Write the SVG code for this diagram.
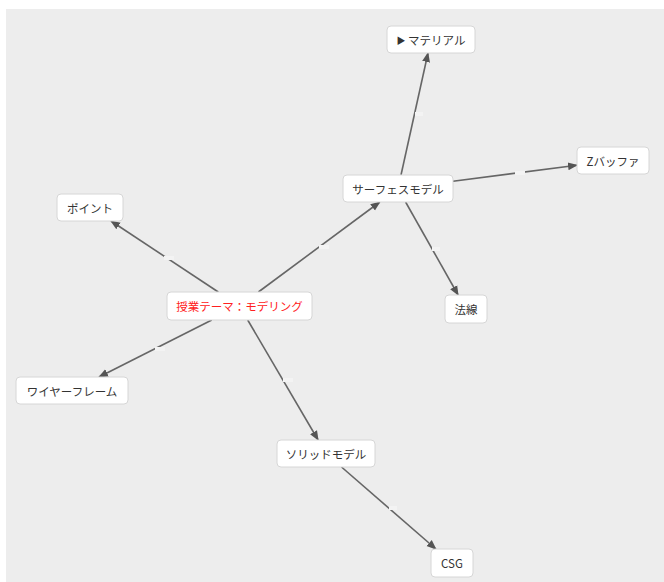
<svg xmlns="http://www.w3.org/2000/svg" width="664" height="582" viewBox="0 0 664 582">
<style>
.bg{fill:#ededed}
.node rect{fill:#ffffff;stroke:#d6d6d6;stroke-width:1}
.node text{font-family:"Noto Sans CJK JP","Noto Sans",sans-serif;font-size:11.5px;fill:#333;text-anchor:middle;dominant-baseline:central}
.node text.main{fill:#ff2020}
.edge{stroke:#666;stroke-width:1.6;fill:none}
.lbl{fill:#f3f3f3}
</style>
<defs>
<marker id="arr" viewBox="0 0 10 10" refX="9" refY="5" markerWidth="10" markerHeight="10" markerUnits="userSpaceOnUse" orient="auto">
<path d="M0,1 L10,5 L0,9 Z" fill="#555"/>
</marker>
</defs>
<rect class="bg" x="6" y="9" width="658" height="573"/>
<g id="connectors">
<line class="edge" x1="218.3" y1="292" x2="111" y2="221" marker-end="url(#arr)"/>
<line class="edge" x1="211.8" y1="320" x2="99" y2="377" marker-end="url(#arr)"/>
<line class="edge" x1="258.4" y1="292" x2="379.8" y2="202" marker-end="url(#arr)"/>
<line class="edge" x1="247.7" y1="320" x2="318.1" y2="440" marker-end="url(#arr)"/>
<line class="edge" x1="401" y1="175" x2="428" y2="53" marker-end="url(#arr)"/>
<line class="edge" x1="453" y1="181.3" x2="577" y2="165.2" marker-end="url(#arr)"/>
<line class="edge" x1="405.6" y1="202" x2="458.1" y2="295" marker-end="url(#arr)"/>
<line class="edge" x1="341.5" y1="467" x2="435.9" y2="549" marker-end="url(#arr)"/>
<rect class="lbl" x="164" y="256" width="10" height="4"/>
<rect class="lbl" x="155" y="347" width="10" height="4"/>
<rect class="lbl" x="319" y="245" width="10" height="4"/>
<rect class="lbl" x="283" y="378" width="10" height="4"/>
<rect class="lbl" x="415" y="112" width="8" height="4"/>
<rect class="lbl" x="515" y="171" width="10" height="4"/>
<rect class="lbl" x="432" y="247" width="8" height="4"/>
<rect class="lbl" x="389" y="506" width="8" height="4"/>
</g>
<g id="n-main" class="node"><rect x="167" y="292" width="145" height="28" rx="4"/><text class="main" x="239.5" y="306">授業テーマ：モデリング</text></g>
<g id="n-material" class="node"><rect x="387" y="26" width="88" height="27" rx="4"/><text x="431" y="39.5"><tspan font-size="9px">▶</tspan> マテリアル</text></g>
<g id="n-surface" class="node"><rect x="343" y="175" width="110" height="27" rx="4"/><text x="398" y="188.5">サーフェスモデル</text></g>
<g id="n-zbuffer" class="node"><rect x="577" y="147" width="72" height="27" rx="4"/><text x="613" y="160.5">Zバッファ</text></g>
<g id="n-point" class="node"><rect x="57" y="194" width="66" height="27" rx="4"/><text x="90" y="207.5">ポイント</text></g>
<g id="n-wire" class="node"><rect x="16" y="377" width="112" height="27" rx="4"/><text x="72" y="390.5">ワイヤーフレーム</text></g>
<g id="n-normal" class="node"><rect x="445" y="295" width="42" height="28" rx="4"/><text x="466" y="309">法線</text></g>
<g id="n-solid" class="node"><rect x="277" y="440" width="98" height="27" rx="4"/><text x="326" y="453.5">ソリッドモデル</text></g>
<g id="n-csg" class="node"><rect x="431" y="549" width="42" height="28" rx="4"/><text x="452" y="563">CSG</text></g>
</svg>
